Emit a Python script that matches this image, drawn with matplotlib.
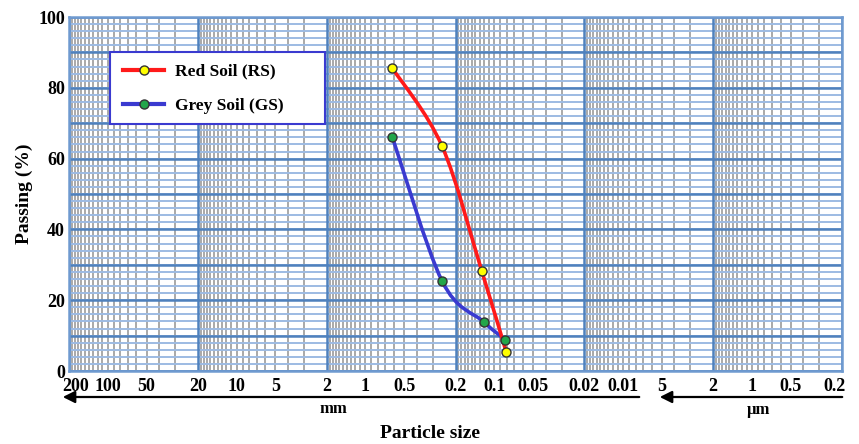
import numpy as np
import matplotlib
matplotlib.use("Agg")
import matplotlib.pyplot as plt
import matplotlib.transforms as mtrans
from matplotlib.path import Path
from matplotlib.patches import PathPatch, Rectangle, FancyArrowPatch
from matplotlib.lines import Line2D

# sieve data (particle size in mm, passing %)
red_size = [0.62, 0.255, 0.125, 0.081]
red_pass = [85.6, 63.6, 28.2, 5.5]
grey_size = [0.62, 0.255, 0.121, 0.082]
grey_pass = [66.2, 25.5, 13.9, 8.8]

tick_pos = [200, 100, 50, 20, 10, 5, 2, 1, 0.5, 0.2, 0.1, 0.05, 0.02, 0.01,
            0.005, 0.002, 0.001, 0.0005, 0.0002]
tick_lab = ['200', '100', '50', '20', '10', '5', '2', '1', '0.5', '0.2', '0.1',
            '0.05', '0.02', '0.01', '5', '2', '1', '0.5', '0.2']

plt.rcParams['font.family'] = ['Liberation Serif', 'DejaVu Serif']
plt.rcParams['font.weight'] = 'bold'

W, H = 859, 444
fig = plt.figure(figsize=(W / 100, H / 100), dpi=100)
ax = fig.add_axes([69 / W, 1 - 371 / H, (842 - 69) / W, (371 - 17) / H])
ax.set_xscale('log')
ax.set_xlim(200, 0.0002)
ax.set_ylim(0, 100)

# graph paper grid
minor_v = []
major_v = []
for e in range(-4, 3):
    for m in list(np.arange(1.0, 2.0, 0.1)) + list(range(3, 10)):
        minor_v.append(m * 10.0 ** e)
    major_v.append(2 * 10.0 ** e)
ax.vlines(minor_v, 0, 100, color='#a3a3a3', lw=1.3, zorder=1)
ax.hlines(range(0, 101, 2), 200, 0.0002, color='#9dbbe3', lw=1.4, zorder=1.2)
ax.hlines(range(0, 101, 10), 200, 0.0002, color='#4f81bd', lw=1.8, zorder=1.4)
ax.vlines(major_v, 0, 100, color='#4f81bd', lw=1.8, zorder=1.4)
for s in ax.spines.values():
    s.set_color('#6f9ad0')
    s.set_linewidth(1.8)


def smooth_path(xs, ys):
    # Catmull-Rom style bezier through the points, in log-x space
    lx = np.log10(xs)
    ys = np.asarray(ys, float)
    n = len(lx)
    verts = [(xs[0], ys[0])]
    codes = [Path.MOVETO]
    for i in range(n - 1):
        p0 = (lx[max(i - 1, 0)], ys[max(i - 1, 0)])
        p1 = (lx[i], ys[i])
        p2 = (lx[i + 1], ys[i + 1])
        p3 = (lx[min(i + 2, n - 1)], ys[min(i + 2, n - 1)])
        c1 = (p1[0] + (p2[0] - p0[0]) / 6, p1[1] + (p2[1] - p0[1]) / 6)
        c2 = (p2[0] - (p3[0] - p1[0]) / 6, p2[1] - (p3[1] - p1[1]) / 6)
        for c in (c1, c2, p2):
            verts.append((10 ** c[0], c[1]))
            codes.append(Path.CURVE4)
    return Path(verts, codes)


ax.add_patch(PathPatch(smooth_path(grey_size, grey_pass), fill=False,
                       edgecolor='#3a3ad0', lw=2.6, zorder=3))
ax.add_patch(PathPatch(smooth_path(red_size, red_pass), fill=False,
                       edgecolor='#ff1a1a', lw=2.6, zorder=3.2))
ax.plot(red_size, red_pass, 'o', ms=6.5, mfc='#ffff00', mec='#333333', mew=1, zorder=4)
ax.plot(grey_size, grey_pass, 'o', ms=6.5, mfc='#22a64a', mec='#333333', mew=1, zorder=4)

ax.set_xticks(tick_pos)
ax.set_xticklabels(tick_lab)
ax.xaxis.set_minor_locator(matplotlib.ticker.NullLocator())
ax.set_yticks(range(0, 101, 20))
ax.tick_params(length=0, labelsize=13, pad=5)
ax.tick_params(axis='y', pad=3)
for t in ax.get_xticklabels() + ax.get_yticklabels():
    t.set_fontweight('bold')
xl = ax.get_xticklabels()
xl[0].set_transform(xl[0].get_transform() + mtrans.ScaledTranslation(7 / 100, 0, fig.dpi_scale_trans))
xl[-1].set_transform(xl[-1].get_transform() + mtrans.ScaledTranslation(-7 / 100, 0, fig.dpi_scale_trans))

# legend box
fig.add_artist(Rectangle((110 / W, 1 - 124 / H), 215 / W, 72 / H, transform=fig.transFigure,
                         facecolor='white', edgecolor='#3a3ad0', lw=1.5, zorder=5))
h1 = Line2D([], [], color='#ff1a1a', lw=3, marker='o', ms=6.5, mfc='#ffff00', mec='#333333')
h2 = Line2D([], [], color='#3a3ad0', lw=3, marker='o', ms=6.5, mfc='#22a64a', mec='#333333')
leg = fig.legend([h1, h2], ['Red Soil (RS)', 'Grey Soil (GS)'], loc='upper left',
                 bbox_to_anchor=(114 / W, 1 - 55 / H), borderaxespad=0, frameon=False,
                 prop={'size': 12.5, 'weight': 'bold'},
                 handlelength=2.4, handletextpad=0.6, borderpad=0.5, labelspacing=1.05)
leg.set_zorder(6)

ax.set_ylabel('Passing (%)', fontsize=14, fontweight='bold', labelpad=4)

# unit arrows below the axis
ap = dict(arrowstyle='-|>', color='black', lw=1.6, mutation_scale=18)
fig.add_artist(FancyArrowPatch((642 / W, 1 - 397 / H), (60 / W, 1 - 397 / H),
                               transform=fig.transFigure, **ap))
fig.add_artist(FancyArrowPatch((845 / W, 1 - 397 / H), (657 / W, 1 - 397 / H),
                               transform=fig.transFigure, **ap))
fig.text(333 / W, 1 - 409 / H, 'mm', ha='center', va='center', fontsize=12, fontweight='bold')
fig.text(758 / W, 1 - 410 / H, 'µm', ha='center', va='center', fontsize=12, fontweight='bold')
fig.text(430 / W, 1 - 433 / H, 'Particle size', ha='center', va='center', fontsize=14, fontweight='bold')

fig.savefig('out.png', dpi=100)
